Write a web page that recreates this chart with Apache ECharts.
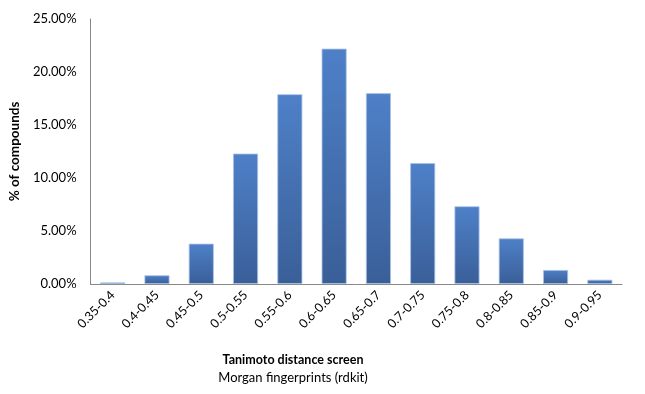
<!DOCTYPE html>
<html><head><meta charset="utf-8">
<script src="https://cdn.jsdelivr.net/npm/echarts@6/dist/echarts.min.js"></script>
<style>html,body{margin:0;padding:0;background:#fff}#c{width:645px;height:394px}</style>
</head><body><div id="c"></div>
<script>
var categories = ["0.35-0.4","0.4-0.45","0.45-0.5","0.5-0.55","0.55-0.6","0.6-0.65","0.65-0.7","0.7-0.75","0.75-0.8","0.8-0.85","0.85-0.9","0.9-0.95"];
var percentValues = [0.15, 0.82, 3.8, 12.3, 17.9, 22.2, 18.0, 11.4, 7.33, 4.3, 1.32, 0.4];
var yTicks = [0, 5, 10, 15, 20, 25];
var xTitle = "Tanimoto distance screen";
var xSubtitle = "Morgan fingerprints (rdkit)";
var yTitle = "% of compounds";

var font = "Lato";
var chart = echarts.init(document.getElementById('c'));
chart.setOption({
  animation: false,
  textStyle: {fontFamily: font},
  title: {
    text: xTitle, subtext: xSubtitle, left: 288, top: 348, textAlign: 'center', itemGap: 5,
    textStyle: {fontFamily: font, fontSize: 12.5, fontWeight: 'bold', color: '#000'},
    subtextStyle: {fontFamily: font, fontSize: 13, color: '#000'}
  },
  grid: {left: 86, right: 23, top: 19, bottom: 110},
  xAxis: {
    type: 'category', data: categories,
    axisLine: {lineStyle: {color: '#888', width: 1}},
    axisTick: {show: false},
    axisLabel: {rotate: 45, color: '#000', fontSize: 12.5, fontFamily: font, margin: 9, interval: 0}
  },
  yAxis: {
    type: 'value', min: yTicks[0], max: yTicks[yTicks.length-1], interval: 5,
    name: yTitle, nameLocation: 'middle', nameGap: 59, nameRotate: 90,
    nameTextStyle: {fontFamily: font, fontSize: 13.5, fontWeight: 'bold', color: '#000'},
    axisLine: {show: true, lineStyle: {color: '#888', width: 1}},
    axisTick: {show: false},
    splitLine: {show: false},
    axisLabel: {color: '#000', fontSize: 13, fontFamily: font, margin: 14, formatter: function(v){return v.toFixed(2)+'%';}}
  },
  series: [{
    type: 'bar', data: percentValues, barWidth: 25,
    itemStyle: {
      color: new echarts.graphic.LinearGradient(0,0,0,1,[{offset:0,color:'#4e80c8'},{offset:1,color:'#3a5f98'}]),
      borderColor: '#a9c2e6', borderWidth: 0.8
    }
  }]
});
</script></body></html>
